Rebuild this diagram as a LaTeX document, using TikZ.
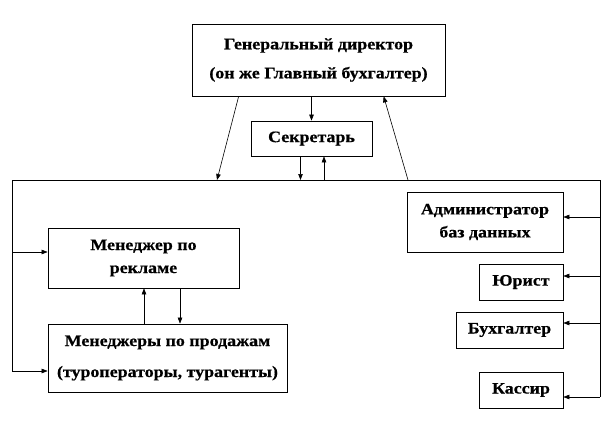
\documentclass[tikz,border=0pt]{standalone}
\usepackage{fontspec}
\setmainfont{Liberation Serif}[BoldFeatures={FakeStretch=1.12,FakeBold=0.6}]
\usetikzlibrary{arrows.meta,calc}
\tikzset{
  box/.style={draw, line width=0.7pt, inner sep=0pt, align=center, font=\bfseries\fontsize{16}{23}\selectfont},
  arr/.style={line width=0.6pt, -{Triangle[length=6pt,width=4.5pt]}},
  bus/.style={line width=0.7pt}
}
\begin{document}
\begin{tikzpicture}[x=1pt,y=-1pt]
\useasboundingbox (0,0) rectangle (612,420);
\node[box, minimum width=253pt, minimum height=72pt, font=\bfseries\fontsize{16}{29}\selectfont] (gd) at (318.5,60) {Генеральный директор\\(он же Главный бухгалтер)};
\node[box, minimum width=121pt, minimum height=35pt] (sec) at (311.5,138.5) {Секретарь};
\node[box, minimum width=156pt, minimum height=60pt] (adm) at (485,222) {Администратор\\баз данных};
\node[box, minimum width=84pt, minimum height=36pt] (jur) at (521,282) {Юрист};
\node[box, minimum width=107pt, minimum height=36pt] (buh) at (509.5,330) {Бухгалтер};
\node[box, minimum width=84pt, minimum height=36pt] (kas) at (521,390) {Кассир};
\node[box, minimum width=191pt, minimum height=60pt] (rek) at (143.5,258) {Менеджер по\\рекламе};
\node[box, minimum width=239pt, minimum height=68pt, font=\bfseries\fontsize{16}{31}\selectfont] (prod) at (167.5,358) {Менеджеры по продажам\\(туроператоры, турагенты)};
% bus
\coordinate (tl) at (12,180);
\coordinate (tr) at (600,180);
\coordinate (lb) at (12,371);
\coordinate (rb) at (600,397);
\draw[bus] (lb) -- (tl) -- (tr) -- (rb);
% top connections
\coordinate (g1) at (217,180);
\coordinate (g2) at (408,180);
\coordinate (s1) at (300.5,180);
\coordinate (s2) at (324,180);
\draw[arr] ($(gd.south west)+(47,0)$) -- (g1);
\draw[arr] (g2) -- ($(gd.south west)+(192,0)$);
\draw[arr] (gd.south -| sec.north) -- (sec.north);
\draw[arr] (sec.south -| s1) -- (s1);
\draw[arr] (s2) -- (sec.south -| s2);
% right branch
\coordinate (r1) at (600,217);
\coordinate (r2) at (600,276);
\coordinate (r3) at (600,323);
\coordinate (r4) at (600,397);
\draw[arr] (r1) -- (r1 -| adm.east);
\draw[arr] (r2) -- (r2 -| jur.east);
\draw[arr] (r3) -- (r3 -| buh.east);
\draw[arr] (r4) -- (r4 -| kas.east);
% left branch
\coordinate (l1) at (12,252);
\coordinate (l2) at (12,371);
\draw[arr] (l1) -- (l1 -| rek.west);
\draw[arr] (l2) -- (l2 -| prod.west);
% between managers
\coordinate (m1) at (144,0);
\coordinate (m2) at (180,0);
\draw[arr] (prod.north -| m1) -- (rek.south -| m1);
\draw[arr] (rek.south -| m2) -- (prod.north -| m2);
\end{tikzpicture}
\end{document}
